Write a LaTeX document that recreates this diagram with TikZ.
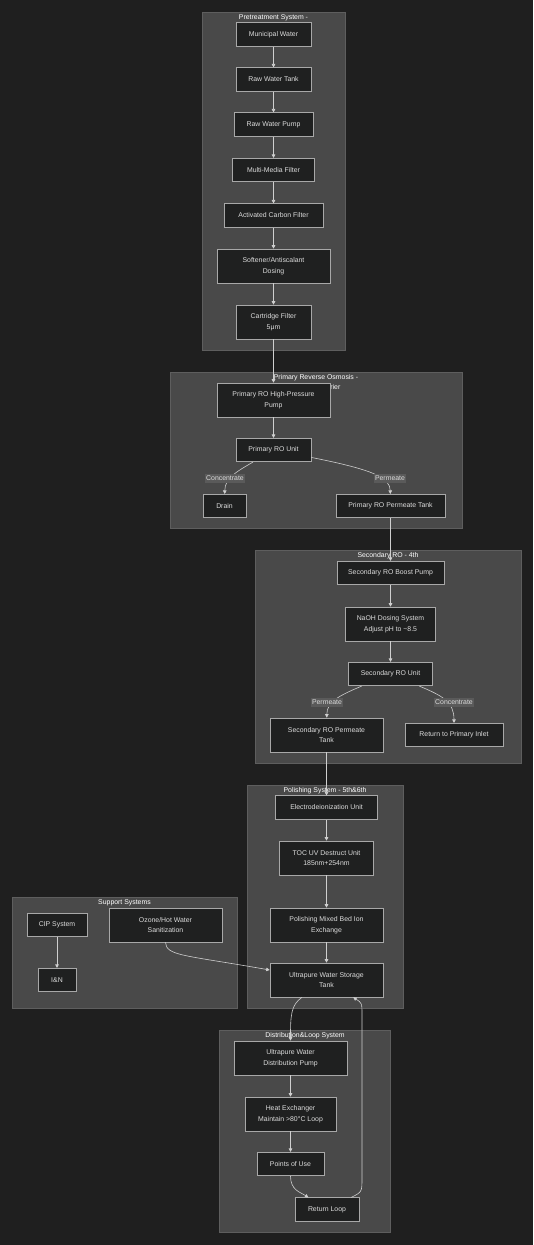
\documentclass[tikz,border=0pt]{standalone}
\usepackage{fontspec}
\setmainfont{Liberation Sans}
\usetikzlibrary{arrows.meta}

\definecolor{canvas}{HTML}{1F1F1F}
\definecolor{groupfill}{HTML}{494949}
\definecolor{groupline}{HTML}{5E5E5E}
\definecolor{boxfill}{HTML}{1F2020}
\definecolor{boxline}{HTML}{A8A8A8}
\definecolor{boxtext}{HTML}{DCDCDC}
\definecolor{flowline}{HTML}{CFCFCF}
\definecolor{tagfill}{HTML}{5A5A5A}
\newcommand\uwfont{\fontsize{6.9}{10.5}\selectfont}

\tikzset{
  stage/.style={draw=boxline, fill=boxfill, text=boxtext, font=\uwfont, align=center,
    inner sep=0pt, minimum height=23.5pt, line width=0.6pt},
  stagetwo/.style={stage, minimum height=34pt},
  system/.style={draw=groupline, fill=groupfill, line width=0.6pt},
  systemtitle/.style={text=white, font=\uwfont, anchor=north, inner sep=0pt, align=center},
  flow/.style={draw=flowline, line width=0.6pt, -{Triangle[length=3.5pt,width=3.5pt]}},
  tag/.style={fill=tagfill, text=boxtext, font=\uwfont, inner xsep=1.5pt, inner ysep=0pt,
    minimum height=9pt}
}

\begin{document}
\begin{tikzpicture}[x=1pt, y=-1pt]
  \fill[canvas] (0,0) rectangle (533,1245);
  \useasboundingbox (0,0) rectangle (533,1245);

  \draw[system] (202,12) rectangle (345,350);
  \draw[system] (170,372) rectangle (462,528);
  \draw[system] (255,550) rectangle (521,763);
  \draw[system] (247,785) rectangle (403,1008);
  \draw[system] (12,897) rectangle (237,1008);
  \draw[system] (219,1030) rectangle (390,1232);

  \node[systemtitle] (tpre) at (273.5,14) {Pretreatment System -};
  \node[systemtitle] (tpro) at (316,374) {Primary Reverse Osmosis -\\2nd\&3rd Barrier};
  \node[systemtitle] (tsro) at (388,552) {Secondary RO - 4th};
  \node[systemtitle] (tpol) at (325,787) {Polishing System - 5th\&6th};
  \node[systemtitle] (tsup) at (124.5,899) {Support Systems};
  \node[systemtitle] (tdis) at (305,1032) {Distribution\&Loop System};

  \node[stage, minimum width=75pt] (municipal) at (273.5,34.5) {Municipal Water};
  \node[stage, minimum width=75pt] (rawtank) at (273.5,79.5) {Raw Water Tank};
  \node[stage, minimum width=79pt] (rawpump) at (273.5,124.5) {Raw Water Pump};
  \node[stage, minimum width=82pt] (mmf) at (273.5,170) {Multi-Media Filter};
  \node[stage, minimum width=99pt] (carbon) at (273.5,215.5) {Activated Carbon Filter};
  \node[stagetwo, minimum width=113pt] (softener) at (273.5,266) {Softener/Antiscalant\\Dosing};
  \node[stagetwo, minimum width=75pt] (cartridge) at (273.5,322) {Cartridge Filter\\5μm};

  \node[stagetwo, minimum width=113pt] (hppump) at (273.5,400) {Primary RO High-Pressure\\Pump};
  \node[stage, minimum width=75pt] (prounit) at (273.5,450) {Primary RO Unit};
  \node[stage, minimum width=43pt] (drain) at (224.5,506) {Drain};
  \node[stage, minimum width=109pt] (protank) at (390.5,506) {Primary RO Permeate Tank};

  \node[stage, minimum width=107pt] (boost) at (390.5,573) {Secondary RO Boost Pump};
  \node[stagetwo, minimum width=90pt] (naoh) at (390.5,624) {NaOH Dosing System\\Adjust pH to \textasciitilde8.5};
  \node[stage, minimum width=84pt] (srounit) at (390.5,674) {Secondary RO Unit};
  \node[stagetwo, minimum width=113pt] (srotank) at (326.5,735) {Secondary RO Permeate\\Tank};
  \node[stage, minimum width=98pt] (backinlet) at (454,735) {Return to Primary Inlet};

  \node[stage, minimum width=102pt] (edi) at (326.5,807.5) {Electrodeionization Unit};
  \node[stagetwo, minimum width=94pt] (tocuv) at (326.5,858) {TOC UV Destruct Unit\\185nm+254nm};
  \node[stagetwo, minimum width=113pt] (mixbed) at (326.5,925) {Polishing Mixed Bed Ion\\Exchange};
  \node[stagetwo, minimum width=113pt] (upwtank) at (326.5,980) {Ultrapure Water Storage\\Tank};

  \node[stage, minimum width=60pt] (cip) at (57,925) {CIP System};
  \node[stagetwo, minimum width=113pt] (ozone) at (165.5,925) {Ozone/Hot Water\\Sanitization};
  \node[stage, minimum width=38pt] (ien) at (57,980) {I\&N};

  \node[stagetwo, minimum width=113pt] (distpump) at (290.5,1058) {Ultrapure Water\\Distribution Pump};
  \node[stagetwo, minimum width=91pt] (heatx) at (290.5,1114) {Heat Exchanger\\Maintain >80°C Loop};
  \node[stage, minimum width=67pt] (pou) at (290.5,1164) {Points of Use};
  \node[stage, minimum width=64pt] (retloop) at (327,1209.5) {Return Loop};

  \draw[flow] (municipal) -- (rawtank);
  \draw[flow] (rawtank) -- (rawpump);
  \draw[flow] (rawpump) -- (mmf);
  \draw[flow] (mmf) -- (carbon);
  \draw[flow] (carbon) -- (softener);
  \draw[flow] (softener) -- (cartridge);
  \draw[flow] (cartridge) -- (hppump);
  \draw[flow] (hppump) -- (prounit);
  \draw[flow] (prounit) .. controls (236,472) and (225,478) .. (drain);
  \draw[flow] (prounit) .. controls (375,470) and (390,478) .. (protank);
  \draw[flow] (protank) -- (boost);
  \draw[flow] (boost) -- (naoh);
  \draw[flow] (naoh) -- (srounit);
  \draw[flow] (srounit) .. controls (338,696) and (327,702) .. (srotank);
  \draw[flow] (srounit) .. controls (443,696) and (454,702) .. (backinlet);
  \draw[flow] (srotank) -- (edi);
  \draw[flow] (edi) -- (tocuv);
  \draw[flow] (tocuv) -- (mixbed);
  \draw[flow] (mixbed) -- (upwtank);
  \draw[flow] (cip) -- (ien);
  \draw[flow] (ozone.south) .. controls (166,956) and (185,955) .. (upwtank.170);
  \draw[flow] (upwtank) .. controls (291,1005) and (290.5,1015) .. (distpump);
  \draw[flow] (distpump) -- (heatx);
  \draw[flow] (heatx) -- (pou);
  \draw[flow] (pou.south) .. controls (290.5,1190) and (300,1192) .. (retloop);
  \draw[flow] (retloop) .. controls (362,1192) .. (362,1178) -- (362,1015) .. controls (362,1003) .. (upwtank);

  \node[tag] (tagpc) at (225,478) {Concentrate};
  \node[tag] (tagpp) at (390,478) {Permeate};
  \node[tag] (tagsp) at (327,702) {Permeate};
  \node[tag] (tagsc) at (454,702) {Concentrate};
\end{tikzpicture}
\end{document}
